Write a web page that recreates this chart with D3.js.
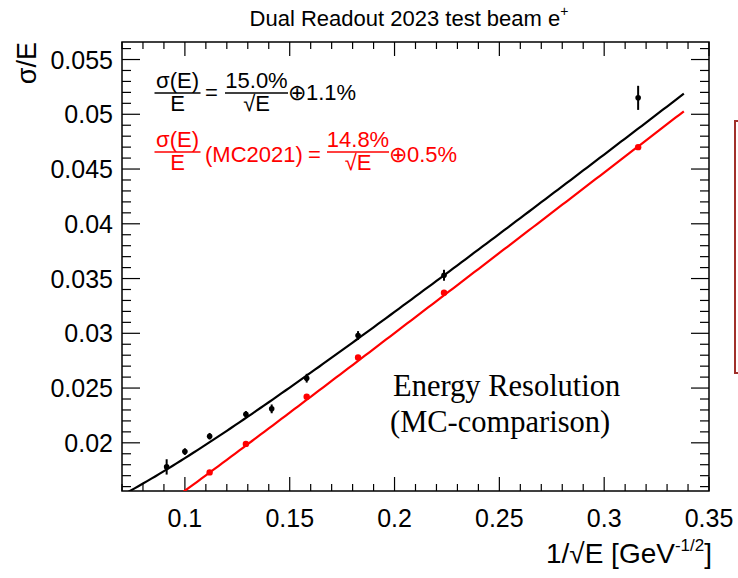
<!DOCTYPE html>
<html>
<head>
<meta charset="utf-8">
<script src="https://cdn.jsdelivr.net/npm/d3@7"></script>
<style>
  html, body { margin: 0; padding: 0; background: #fff; }
  svg { display: block; }
</style>
</head>
<body>
<svg id="chart" width="738" height="578" font-family="'Liberation Sans', Arial, sans-serif"></svg>
<script>
// ---------- data ----------
const dataX = [0.0913, 0.1000, 0.1118, 0.1291, 0.1414, 0.1581, 0.1826, 0.2236, 0.3162];
const dataY = [0.0178, 0.0192, 0.0206, 0.0226, 0.0231, 0.0259, 0.0298, 0.0353, 0.0515];
const dataErr = [0.0007, 0.0003, 0.0003, 0.0003, 0.0004, 0.0004, 0.0004, 0.0005, 0.0011];

const mcX = [0.1118, 0.1291, 0.1581, 0.1826, 0.2236, 0.3162];
const mcY = [0.0173, 0.0199, 0.0242, 0.0278, 0.0337, 0.0470];

// fit parameters (stochastic term, constant term) as printed on the chart
const fitNames = ["data", "MC2021"];
const fitStochastic = [0.150, 0.148];
const fitConstant = [0.011, 0.005];
const fitColors = ["#000000", "#ff0000"];
const fitRange = [0.07, 0.338];

const xTicks = [0.1, 0.15, 0.2, 0.25, 0.3, 0.35];
const xTickLabels = ["0.1", "0.15", "0.2", "0.25", "0.3", "0.35"];
const yTicks = [0.02, 0.025, 0.03, 0.035, 0.04, 0.045, 0.05, 0.055];
const yTickLabels = ["0.02", "0.025", "0.03", "0.035", "0.04", "0.045", "0.05", "0.055"];

// ---------- layout ----------
const svg = d3.select("#chart");
const L = 122, R = 709, T = 42, B = 491;
const x = d3.scaleLinear().domain([0.07, 0.35]).range([L, R]);
const y = d3.scaleLinear().domain([0.0156, 0.0566]).range([B, T]);

svg.append("defs").append("clipPath").attr("id", "clip")
  .append("rect").attr("x", L).attr("y", T).attr("width", R - L).attr("height", B - T);

// title
const title = svg.append("text").attr("x", 409).attr("y", 26)
  .attr("text-anchor", "middle").attr("font-size", 22).attr("fill", "#000");
title.append("tspan").text("Dual Readout 2023 test beam e");
title.append("tspan").attr("font-size", 14).attr("dy", -10).text("+");

// axes (ticks inside, mirrored on top/right)
const xMinor = d3.range(0.07, 0.3501, 0.01).map(v => +v.toFixed(3));
const yMinor = d3.range(0.016, 0.0566, 0.001).map(v => +v.toFixed(4));
const majX = 14, minX = 7, majY = 18, minY = 9;

const gAx = svg.append("g").attr("stroke", "#000").attr("stroke-width", 1.2);
function isMajorX(v) { return xTicks.some(t => Math.abs(t - v) < 1e-6); }
function isMajorY(v) { return yTicks.some(t => Math.abs(t - v) < 1e-6); }
xMinor.forEach(v => {
  const len = isMajorX(v) ? majX : minX;
  gAx.append("line").attr("x1", x(v)).attr("x2", x(v)).attr("y1", B).attr("y2", B - len);
  gAx.append("line").attr("x1", x(v)).attr("x2", x(v)).attr("y1", T).attr("y2", T + len);
});
yMinor.forEach(v => {
  const len = isMajorY(v) ? majY : minY;
  gAx.append("line").attr("y1", y(v)).attr("y2", y(v)).attr("x1", L).attr("x2", L + len);
  gAx.append("line").attr("y1", y(v)).attr("y2", y(v)).attr("x1", R).attr("x2", R - len);
});
svg.append("rect").attr("x", L).attr("y", T).attr("width", R - L).attr("height", B - T)
  .attr("fill", "none").attr("stroke", "#000").attr("stroke-width", 1.5);

// tick labels
svg.append("g").selectAll("text").data(xTicks).join("text")
  .attr("x", d => x(d)).attr("y", 527).attr("text-anchor", "middle")
  .attr("font-size", 25).text((d, i) => xTickLabels[i]);
svg.append("g").selectAll("text").data(yTicks).join("text")
  .attr("x", 113).attr("y", d => y(d)).attr("dy", "0.36em").attr("text-anchor", "end")
  .attr("font-size", 25).text((d, i) => yTickLabels[i]);

// axis titles
const xl = svg.append("text").attr("x", 712).attr("y", 563).attr("text-anchor", "end").attr("font-size", 28);
xl.append("tspan").text("1/\u221AE [GeV");
xl.append("tspan").attr("font-size", 17).attr("dy", -12).text("-1/2");
xl.append("tspan").attr("dy", 12).text("]");

svg.append("text").attr("transform", "translate(36,42) rotate(-90)")
  .attr("text-anchor", "end").attr("font-size", 27).text("\u03C3/E");

// fit curves
const gPlot = svg.append("g").attr("clip-path", "url(#clip)");
const curveXs = d3.range(fitRange[0], fitRange[1] + 1e-9, 0.002);
fitNames.forEach((name, k) => {
  const pts = curveXs.map(v => [v, Math.sqrt(Math.pow(fitStochastic[k] * v, 2) + Math.pow(fitConstant[k], 2))]);
  gPlot.append("path").datum(pts)
    .attr("d", d3.line().x(d => x(d[0])).y(d => y(d[1])))
    .attr("fill", "none").attr("stroke", fitColors[k]).attr("stroke-width", 2.2);
});

// MC points
gPlot.append("g").selectAll("circle").data(mcX).join("circle")
  .attr("cx", d => x(d)).attr("cy", (d, i) => y(mcY[i])).attr("r", 3.2).attr("fill", "#ff0000");

// data points with error bars
const gd = gPlot.append("g");
dataX.forEach((v, i) => {
  gd.append("line").attr("x1", x(v)).attr("x2", x(v))
    .attr("y1", y(dataY[i] - dataErr[i])).attr("y2", y(dataY[i] + dataErr[i]))
    .attr("stroke", "#000").attr("stroke-width", 2);
  gd.append("circle").attr("cx", x(v)).attr("cy", y(dataY[i])).attr("r", 2.8).attr("fill", "#000");
});

// formulas
function fraction(g, cx, num, den, yLine, color, w) {
  g.append("text").attr("x", cx).attr("y", yLine - 5).attr("text-anchor", "middle")
    .attr("font-size", 22).attr("fill", color).text(num);
  g.append("line").attr("x1", cx - w / 2).attr("x2", cx + w / 2).attr("y1", yLine).attr("y2", yLine)
    .attr("stroke", color).attr("stroke-width", 1.5);
  g.append("text").attr("x", cx).attr("y", yLine + 18).attr("text-anchor", "middle")
    .attr("font-size", 22).attr("fill", color).text(den);
}
const gf = svg.append("g");
// black
fraction(gf, 177.5, "\u03C3(E)", "E", 93, "#000", 46);
gf.append("text").attr("x", 205).attr("y", 100).attr("font-size", 22).text("=");
fraction(gf, 256.5, "15.0%", "\u221AE", 93, "#000", 63);
gf.append("text").attr("x", 288).attr("y", 100).attr("font-size", 22).text("\u22951.1%");
// red
fraction(gf, 177.5, "\u03C3(E)", "E", 152, "#ff0000", 46);
gf.append("text").attr("x", 205).attr("y", 162).attr("font-size", 22).attr("fill", "#ff0000").text("(MC2021)");
gf.append("text").attr("x", 308).attr("y", 162).attr("font-size", 22).attr("fill", "#ff0000").text("=");
fraction(gf, 358, "14.8%", "\u221AE", 152, "#ff0000", 62);
gf.append("text").attr("x", 389).attr("y", 162).attr("font-size", 22).attr("fill", "#ff0000").text("\u22950.5%");

// annotation
const serif = "'Liberation Serif', 'Times New Roman', serif";
svg.append("text").attr("x", 393).attr("y", 396).style("font-family", serif)
  .attr("font-size", 30.5).text("Energy Resolution");
svg.append("text").attr("x", 390).attr("y", 432).style("font-family", serif)
  .attr("font-size", 30.5).text("(MC-comparison)");

// partial box at right edge
svg.append("rect").attr("x", 735).attr("y", 121).attr("width", 30).attr("height", 252)
  .attr("fill", "none").attr("stroke", "#a0302a").attr("stroke-width", 2);
</script>
</body>
</html>
